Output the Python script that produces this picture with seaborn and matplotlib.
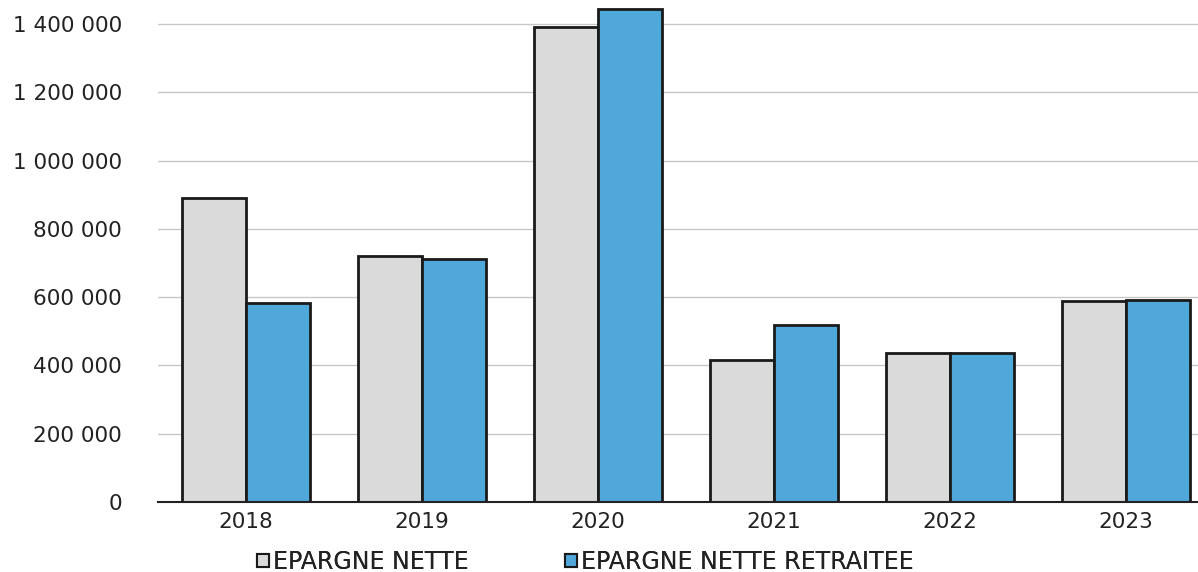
import pandas as pd
import matplotlib
matplotlib.use('Agg')
import matplotlib.pyplot as plt
import seaborn as sns
from matplotlib.ticker import FuncFormatter
from matplotlib.patches import Patch

# donnees
annees = ['2018', '2019', '2020', '2021', '2022', '2023']
epargne_nette = [890000, 720000, 1390000, 416000, 435000, 589000]
epargne_retraitee = [583000, 711000, 1443000, 518000, 437000, 591000]
series = ['EPARGNE NETTE', 'EPARGNE NETTE RETRAITEE']
couleurs = ['#dadada', '#50a8da']

df = pd.DataFrame({
    'Annee': annees * 2,
    'Valeur': epargne_nette + epargne_retraitee,
    'Serie': [series[0]] * len(annees) + [series[1]] * len(annees),
})

sns.set_style('white')
plt.rcParams['font.family'] = ['DejaVu Sans']

fig = plt.figure(figsize=(11.98, 5.72), dpi=100)
ax = fig.add_axes([158 / 1198, 1 - 502 / 572, 1 - 158 / 1198, 502 / 572])

sns.barplot(data=df, x='Annee', y='Valeur', hue='Serie', palette=couleurs,
            saturation=1, width=0.73, edgecolor='#1a1a1a', linewidth=2,
            legend=False, ax=ax)

ax.set_ylim(0, 1470000)
ax.set_xlim(-0.5, 5.41)
ax.set_yticks(range(0, 1400001, 200000))
ax.yaxis.set_major_formatter(FuncFormatter(lambda v, p: f'{v:,.0f}'.replace(',', ' ')))
ax.grid(axis='y', color='#c8c8c8', linewidth=1)
ax.set_axisbelow(True)
for s in ['left', 'right', 'top']:
    ax.spines[s].set_visible(False)
ax.spines['bottom'].set_color('#222222')
ax.spines['bottom'].set_linewidth(1.5)
ax.tick_params(axis='y', length=0, pad=26, labelsize=15.5, labelcolor='#222222')
ax.tick_params(axis='x', length=0, pad=7, labelsize=15.5, labelcolor='#222222')
ax.set_xlabel('')
ax.set_ylabel('')

# legende en bas : deux blocs places separement
positions = [257 / 1198, 565 / 1198]
for nom, c, xpos in zip(series, couleurs, positions):
    h = Patch(facecolor=c, edgecolor='#1a1a1a', linewidth=1.5)
    leg = fig.legend([h], [nom], loc='center left', bbox_to_anchor=(xpos, 1 - 562 / 572),
                     frameon=False, fontsize=17, handlelength=0.5, handleheight=0.5,
                     handletextpad=0.17, borderpad=0, borderaxespad=0,
                     labelcolor='#222222')
    fig.add_artist(leg)

fig.savefig('out.png', dpi=100)
